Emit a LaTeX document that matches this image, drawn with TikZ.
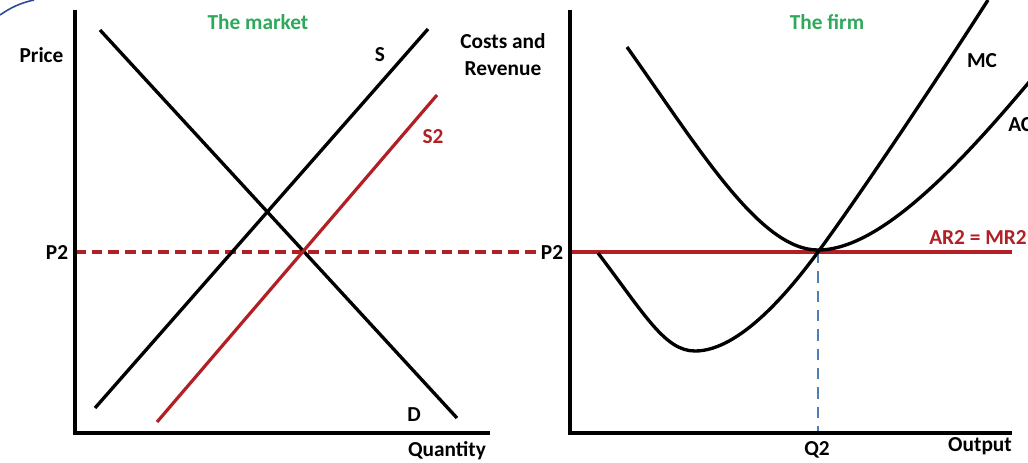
\documentclass[tikz,border=0pt]{standalone}
\usepackage{fontspec}
\setmainfont{Carlito}
\definecolor{dred}{HTML}{B21F24}
\definecolor{mgreen}{HTML}{2EA85A}
\definecolor{qblue}{HTML}{4F7DB8}
\definecolor{arcblue}{HTML}{2E4A9B}
\begin{document}
\begin{tikzpicture}[x=0.75pt,y=-0.75pt,
  lbl/.style={font=\fontsize{16}{20}\selectfont\bfseries, inner sep=0pt, anchor=base},
  axisline/.style={line width=2.7pt},
  curveline/.style={line width=2.5pt},
  redline/.style={line width=2.4pt, draw=dred},
  reddash/.style={line width=2.4pt, draw=dred, dash pattern=on 8pt off 4.5pt},
  bluedash/.style={line width=2pt, draw=qblue, dash pattern=on 8.5pt off 6pt}]
\useasboundingbox (0,0) rectangle (1028,462);
\clip (0,0) rectangle (1028,462);

% decorative blue arc
\draw[arcblue, line width=1.2pt] (0,15) .. controls (10,8) and (20,3) .. (34,0);

% ---------- left panel: the market ----------
\coordinate (LyT) at (75,10);
\coordinate (LO) at (75,433);
\coordinate (LxR) at (490,433);
\coordinate (Sa) at (95,408);
\coordinate (Sb) at (428,29);
\coordinate (Da) at (100,30);
\coordinate (Db) at (457,418);
\coordinate (S2a) at (157,422);
\coordinate (S2b) at (437,95);
\coordinate (P2a) at (75,252);
\coordinate (P2b) at (540,252);

\draw[reddash] (P2a) -- (P2b);
\draw[curveline] (Sa) -- (Sb);
\draw[curveline] (Da) -- (Db);
\draw[redline] (S2a) -- (S2b);
\draw[axisline] (LyT) -- (LO) -- (LxR);

\node[lbl] (price) at (41.5,62) {Price};
\node[lbl, text=mgreen] (market) at (258,29) {The market};
\node[lbl] (slab) at (380,61) {S};
\node[lbl, text=dred] (s2lab) at (433,143) {S2};
\node[lbl] (dlab) at (414,421) {D};
\node[lbl] (qty) at (447,456) {Quantity};
\node[lbl] (p2l) at (57,259) {P2};
\node[lbl] (p2r) at (552,259) {P2};
\node[lbl] (costs) at (503,48) {Costs and};
\node[lbl] (rev) at (503,75) {Revenue};

% ---------- right panel: the firm ----------
\coordinate (RyT) at (570,10);
\coordinate (RO) at (570,433);
\coordinate (RxR) at (1012,433);
\coordinate (ARa) at (570,252);
\coordinate (ARb) at (1012,252);
\coordinate (Qtop) at (818,252);
\coordinate (Qbot) at (818,433);

\draw[bluedash] (Qtop) -- (Qbot);
\draw[redline, line width=2.7pt] (ARa) -- (ARb);

% MC curve
\draw[curveline] (598,253) .. controls (645,315) and (665,351) .. (695,351)
  .. controls (740,351) and (790,290) .. (818,252)
  .. controls (860,195) and (940,75) .. (988,0);
% AC curve
\draw[curveline] (627,47) .. controls (700,150) and (760,250) .. (818,250)
  .. controls (880,250) and (960,165) .. (1035,75);

\draw[axisline] (RyT) -- (RO) -- (RxR);

\node[lbl, text=mgreen] (firm) at (827,29) {The firm};
\node[lbl] (mclab) at (982,67) {MC};
\node[lbl, anchor=base west] (aclab) at (1008,131) {AC};
\node[lbl, text=dred, anchor=base west] (arlab) at (929,244) {AR2 = MR2};
\node[lbl] (q2) at (817,455) {Q2};
\node[lbl] (out) at (980,451) {Output};
\end{tikzpicture}
\end{document}
